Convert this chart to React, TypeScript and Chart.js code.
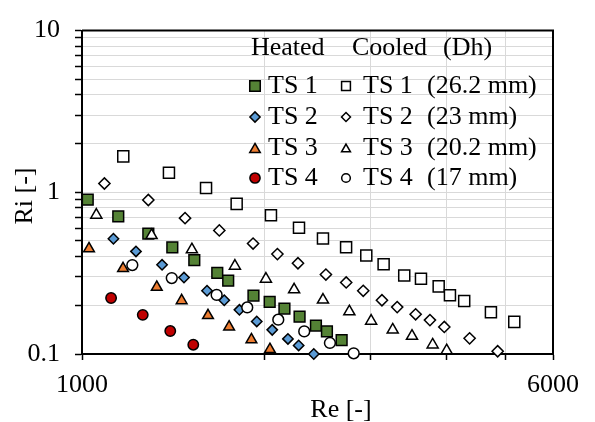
import React, { useEffect, useRef } from "react";
import { Chart, registerables } from "chart.js";
import { drawPoint } from "chart.js/helpers";

Chart.register(...registerables);

// ---------- data ----------
const heatedTS1Re = [1022, 1148, 1287, 1410, 1533, 1673, 1744, 1920, 2042, 2160, 2288, 2435, 2539, 2685];
const heatedTS1Ri = [0.9, 0.709, 0.555, 0.457, 0.381, 0.318, 0.284, 0.23, 0.21, 0.191, 0.17, 0.15, 0.138, 0.122];

const heatedTS2Re = [1127, 1228, 1356, 1474, 1609, 1718, 1820, 1944, 2062, 2189, 2280, 2415];
const heatedTS2Ri = [0.516, 0.431, 0.356, 0.297, 0.246, 0.215, 0.1875, 0.159, 0.141, 0.124, 0.113, 0.1];

const heatedTS3Re = [1027, 1169, 1329, 1461, 1615, 1750, 1905, 2044];
const heatedTS3Ri = [0.448, 0.338, 0.259, 0.214, 0.173, 0.147, 0.1226, 0.1067];

const heatedTS4Re = [1117, 1260, 1399, 1527];
const heatedTS4Ri = [0.222, 0.1746, 0.1387, 0.1142];

const cooledTS1Re = [1170, 1392, 1603, 1801, 2052, 2283, 2501, 2731, 2949, 3150, 3407, 3631, 3884, 4054, 4280, 4738, 5178];
const cooledTS1Ri = [1.668, 1.319, 1.062, 0.848, 0.721, 0.603, 0.518, 0.457, 0.407, 0.359, 0.306, 0.292, 0.262, 0.231, 0.213, 0.181, 0.158];

const cooledTS2Re = [1089, 1287, 1480, 1686, 1917, 2103, 2274, 2529, 2732, 2915, 3130, 3317, 3558, 3757, 3968, 4369, 4861];
const cooledTS2Ri = [1.133, 0.896, 0.692, 0.581, 0.482, 0.415, 0.364, 0.31, 0.277, 0.246, 0.215, 0.195, 0.176, 0.162, 0.147, 0.125, 0.104];

const cooledTS3Re = [1056, 1303, 1519, 1789, 2013, 2241, 2501, 2765, 3004, 3261, 3509, 3796, 4004];
const cooledTS3Ri = [0.724, 0.542, 0.442, 0.35, 0.291, 0.25, 0.216, 0.183, 0.16, 0.141, 0.129, 0.114, 0.105];

const cooledTS4Re = [1211, 1407, 1669, 1875, 2110, 2329, 2568, 2811];
const cooledTS4Ri = [0.355, 0.295, 0.232, 0.194, 0.163, 0.138, 0.117, 0.101];

const seriesLabels = ["TS 1", "TS 2", "TS 3", "TS 4"];
const dhLabels = ["(26.2 mm)", "(23 mm)", "(20.2 mm)", "(17 mm)"];
const legendHeader = ["Heated", "Cooled", "(Dh)"];

const xTickValues = [1000, 2000, 3000, 4000, 5000, 6000];
const xLabelValues = [1000, 6000];
const yTickValues = [0.1, 0.2, 0.3, 0.4, 0.5, 0.6, 0.7, 0.8, 0.9, 1, 2, 3, 4, 5, 6, 7, 8, 9, 10];
const yLabelValues = [0.1, 1, 10];

const xTitle = "Re [-]";
const yTitle = "Ri [-]";

// ---------- styles ----------
const FONT = "'Liberation Serif', 'Times New Roman', serif";
const FS = 26;
const heatedStyles = [
  { pointStyle: "rect", radius: 7.6, fill: "#548235" },
  { pointStyle: "rectRot", radius: 5.2, fill: "#5b9bd5" },
  { pointStyle: "triangle", radius: 6.2, fill: "#ed7d31" },
  { pointStyle: "circle", radius: 5.2, fill: "#c00000" },
];
const cooledStyles = [
  { pointStyle: "rect", radius: 7.8, fill: "#ffffff" },
  { pointStyle: "rectRot", radius: 5.6, fill: "#ffffff" },
  { pointStyle: "triangle", radius: 6.4, fill: "#ffffff" },
  { pointStyle: "circle", radius: 5.4, fill: "#ffffff" },
];

const zip = (xs: number[], ys: number[]) => xs.map((x, i) => ({ x, y: ys[i] }));

const heatedData = [
  zip(heatedTS1Re, heatedTS1Ri),
  zip(heatedTS2Re, heatedTS2Ri),
  zip(heatedTS3Re, heatedTS3Ri),
  zip(heatedTS4Re, heatedTS4Ri),
];
const cooledData = [
  zip(cooledTS1Re, cooledTS1Ri),
  zip(cooledTS2Re, cooledTS2Ri),
  zip(cooledTS3Re, cooledTS3Ri),
  zip(cooledTS4Re, cooledTS4Ri),
];

const legendPlugin = {
  id: "customLegend",
  afterDraw(chart: any) {
    const ctx = chart.ctx;
    const ca = chart.chartArea;
    ctx.save();
    // top/right frame
    ctx.strokeStyle = "#000";
    ctx.lineWidth = 2;
    ctx.beginPath();
    ctx.moveTo(ca.left, ca.top);
    ctx.lineTo(ca.right, ca.top);
    ctx.lineTo(ca.right, ca.bottom);
    ctx.stroke();

    ctx.font = `${FS}px ${FONT}`;
    ctx.fillStyle = "#000";
    ctx.textBaseline = "middle";
    ctx.textAlign = "left";
    // header
    ctx.fillText(legendHeader[0], 251, 48);
    ctx.fillText(legendHeader[1], 352, 48);
    ctx.fillText(legendHeader[2], 443, 48);
    const rows = [86, 117, 148, 178];
    rows.forEach((ry, i) => {
      const h = heatedStyles[i];
      ctx.fillStyle = h.fill;
      ctx.strokeStyle = "#000";
      ctx.lineWidth = 1.5;
      drawPoint(ctx, { pointStyle: h.pointStyle, radius: h.radius * 0.98, rotation: 0, borderWidth: 1.5 }, 255, ry + (h.pointStyle === "triangle" ? 1.5 : 0));
      const c = cooledStyles[i];
      ctx.fillStyle = c.fill;
      ctx.strokeStyle = "#000";
      ctx.lineWidth = 1.5;
      drawPoint(ctx, { pointStyle: c.pointStyle, radius: c.radius * 0.8, rotation: 0, borderWidth: 1.5 }, 346, ry + (c.pointStyle === "triangle" ? 1.2 : 0));
      ctx.fillStyle = "#000";
      ctx.fillText(seriesLabels[i], 268, ry);
      ctx.fillText(seriesLabels[i], 363, ry);
      ctx.fillText(dhLabels[i], 427, ry);
    });

    // axis titles
    ctx.textAlign = "center";
    ctx.fillText(xTitle, 341, 410);
    ctx.translate(25, 196);
    ctx.rotate(-Math.PI / 2);
    ctx.fillText(yTitle, 0, 0);
    ctx.restore();
  },
};

export default function App() {
  const ref = useRef<HTMLCanvasElement | null>(null);
  useEffect(() => {
    document.body.style.margin = "0";
    if (!ref.current) return;
    const datasets: any[] = [];
    heatedData.forEach((d, i) => {
      const s = heatedStyles[i];
      datasets.push({
        label: "Heated " + seriesLabels[i],
        data: d,
        pointStyle: s.pointStyle,
        pointRadius: s.radius,
        pointHoverRadius: s.radius,
        backgroundColor: s.fill,
        borderColor: "#000",
        pointBorderWidth: 1.5,
        showLine: false,
        clip: false,
        order: 1,
      });
    });
    cooledData.forEach((d, i) => {
      const s = cooledStyles[i];
      datasets.push({
        label: "Cooled " + seriesLabels[i] + " " + dhLabels[i],
        data: d,
        pointStyle: s.pointStyle,
        pointRadius: s.radius,
        pointHoverRadius: s.radius,
        backgroundColor: s.fill,
        borderColor: "#000",
        pointBorderWidth: 1.5,
        showLine: false,
        clip: false,
        order: 0,
      });
    });

    const chart = new Chart(ref.current, {
      type: "scatter",
      data: { datasets },
      options: {
        responsive: false,
        animation: false,
        devicePixelRatio: 1,
        layout: { padding: { top: 21, right: 42, left: 0, bottom: 0 } },
        plugins: { legend: { display: false }, tooltip: { enabled: false } },
        scales: {
          x: {
            type: "logarithmic",
            min: 1000,
            max: 6000,
            afterBuildTicks: (scale: any) => {
              scale.ticks = xTickValues.map((v) => ({ value: v }));
            },
            afterFit: (scale: any) => {
              scale.height = 68;
            },
            ticks: {
              autoSkip: false,
              maxRotation: 0,
              padding: 10,
              color: "#000",
              font: { family: FONT, size: FS },
              callback: (v: any) => (xLabelValues.includes(Number(v)) ? String(v) : ""),
            },
            grid: { color: "#d9d9d9", lineWidth: 1, tickColor: "#000", tickLength: 6, tickWidth: 1.5 },
            border: { color: "#000", width: 2 },
          },
          y: {
            type: "logarithmic",
            min: 0.1,
            max: 10,
            afterBuildTicks: (scale: any) => {
              scale.ticks = yTickValues.map((v) => ({ value: v }));
            },
            afterFit: (scale: any) => {
              scale.width = 82;
            },
            ticks: {
              autoSkip: false,
              padding: 15,
              color: "#000",
              font: { family: FONT, size: FS },
              callback: (v: any) => (yLabelValues.includes(Number(v)) ? String(v) : ""),
            },
            grid: { color: "#d9d9d9", lineWidth: 1, tickColor: "#000", tickLength: 7, tickWidth: 1.5 },
            border: { color: "#000", width: 2 },
          },
        },
      },
      plugins: [legendPlugin],
    } as any);
    return () => chart.destroy();
  }, []);
  return (
    <div style={{ width: 595, height: 422 }}>
      <canvas ref={ref} width={595} height={422} />
    </div>
  );
}
